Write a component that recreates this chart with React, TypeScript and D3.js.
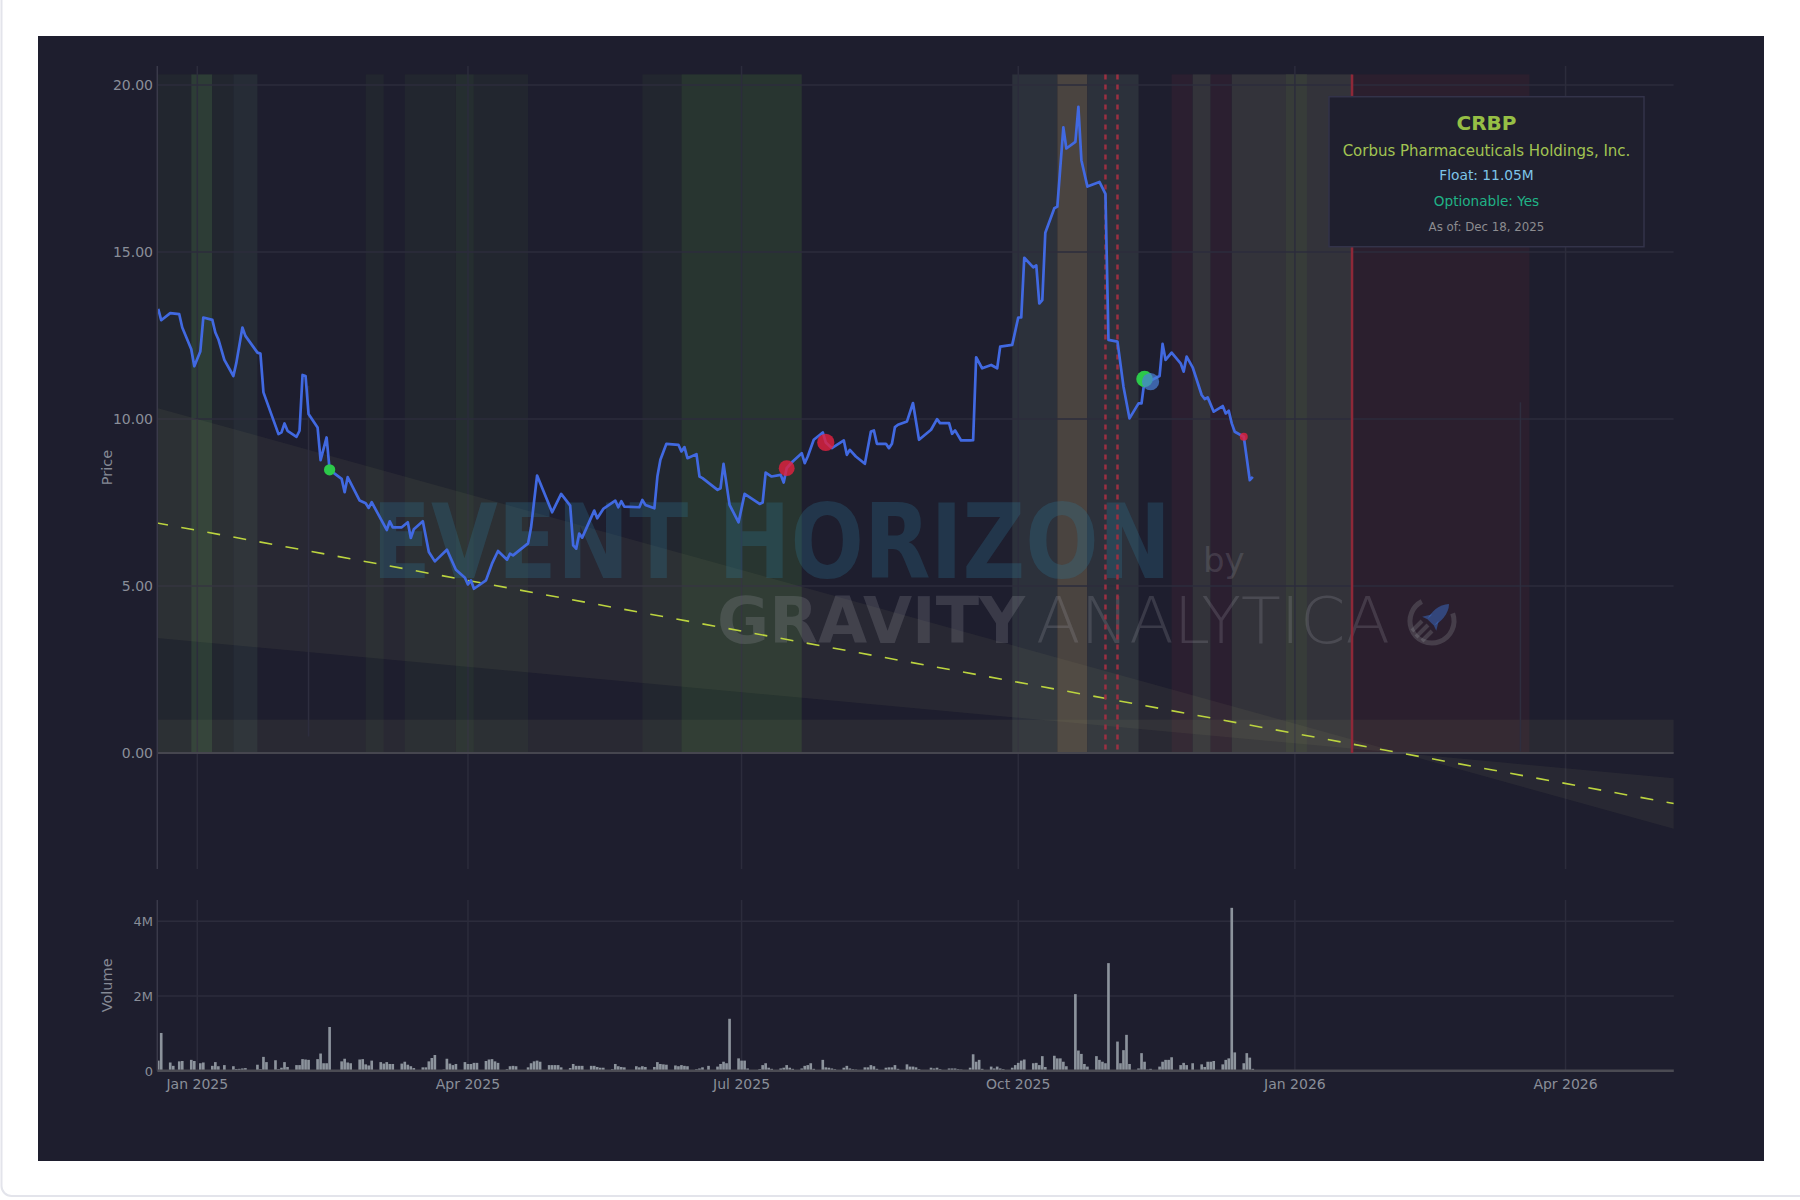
import React from "react";
import * as d3 from "d3";

// ---------------- DATA ----------------
const priceDates = [
  "2024-12-19","2024-12-20","2024-12-23","2024-12-26","2024-12-27","2024-12-30","2024-12-31",
  "2025-01-02","2025-01-03","2025-01-06","2025-01-07","2025-01-08","2025-01-10","2025-01-13","2025-01-14","2025-01-16","2025-01-17","2025-01-21","2025-01-22","2025-01-23","2025-01-28","2025-01-29","2025-01-30","2025-01-31",
  "2025-02-03","2025-02-04","2025-02-05","2025-02-06","2025-02-07","2025-02-10","2025-02-11","2025-02-13","2025-02-14","2025-02-18","2025-02-19","2025-02-20","2025-02-24","2025-02-26","2025-02-27","2025-02-28",
  "2025-03-05","2025-03-06","2025-03-07","2025-03-10","2025-03-12","2025-03-13","2025-03-14","2025-03-17","2025-03-19","2025-03-21","2025-03-25","2025-03-28","2025-03-31",
  "2025-04-01","2025-04-02","2025-04-03","2025-04-07","2025-04-09","2025-04-11","2025-04-14","2025-04-15","2025-04-16","2025-04-21","2025-04-22","2025-04-24","2025-04-29",
  "2025-05-02","2025-05-05","2025-05-06","2025-05-07","2025-05-08","2025-05-09","2025-05-13","2025-05-14","2025-05-16","2025-05-20","2025-05-21","2025-05-22","2025-05-23","2025-05-28","2025-05-29","2025-05-30",
  "2025-06-02","2025-06-03","2025-06-04","2025-06-06","2025-06-10","2025-06-11","2025-06-12","2025-06-13","2025-06-16","2025-06-17","2025-06-18","2025-06-23","2025-06-24","2025-06-25","2025-06-27","2025-06-30",
  "2025-07-02","2025-07-07","2025-07-08","2025-07-09","2025-07-11","2025-07-14","2025-07-15","2025-07-16","2025-07-18","2025-07-21","2025-07-22","2025-07-23","2025-07-25","2025-07-28","2025-07-29","2025-07-31",
  "2025-08-04","2025-08-05","2025-08-06","2025-08-08","2025-08-11","2025-08-13","2025-08-14","2025-08-15","2025-08-18","2025-08-19","2025-08-20","2025-08-21","2025-08-22","2025-08-25","2025-08-27","2025-08-29",
  "2025-09-02","2025-09-04","2025-09-05","2025-09-08","2025-09-09","2025-09-10","2025-09-12","2025-09-15","2025-09-16","2025-09-17","2025-09-19","2025-09-22","2025-09-24","2025-09-25","2025-09-29",
  "2025-10-01","2025-10-02","2025-10-03","2025-10-06","2025-10-07","2025-10-08","2025-10-09","2025-10-10","2025-10-13","2025-10-14","2025-10-16","2025-10-17","2025-10-20","2025-10-21","2025-10-22","2025-10-24","2025-10-28","2025-10-30","2025-10-31",
  "2025-11-03","2025-11-05","2025-11-07","2025-11-10","2025-11-11","2025-11-12","2025-11-14","2025-11-17","2025-11-18","2025-11-19","2025-11-21","2025-11-24","2025-11-25","2025-11-26","2025-11-28",
  "2025-12-01","2025-12-02","2025-12-03","2025-12-05","2025-12-08","2025-12-09","2025-12-10","2025-12-11","2025-12-12","2025-12-15","2025-12-17","2025-12-18",
];
const priceValues = [
  13.3,12.96,13.17,13.14,12.74,12.09,11.58,
  12.02,13.04,12.97,12.59,12.39,11.77,11.29,11.69,12.74,12.49,11.99,11.96,10.8,9.55,9.6,9.87,9.65,
  9.47,9.65,11.32,11.29,10.15,9.75,8.77,9.45,8.48,8.21,7.81,8.26,7.56,7.48,7.34,7.51,
  6.68,6.94,6.76,6.76,6.91,6.44,6.7,6.94,6.02,5.74,6.09,5.49,5.25,
  5.05,5.17,4.92,5.17,5.67,6.05,5.79,5.97,5.92,6.28,6.76,8.31,7.21,
  7.76,7.41,6.22,6.12,6.57,6.45,7.26,7.03,7.31,7.56,7.36,7.54,7.38,7.36,7.58,7.43,
  7.33,8.28,8.78,9.26,9.23,9.03,9.16,8.83,8.95,8.28,8.23,7.88,7.93,8.66,7.43,6.91,
  7.76,7.46,7.5,8.4,8.28,8.33,8.1,8.53,8.73,8.98,8.68,8.88,9.38,9.6,9.3,9.13,
  9.36,8.93,9.08,8.88,8.66,9.63,9.66,9.26,9.26,9.13,9.26,9.76,9.83,9.93,10.48,9.38,
  9.68,10.0,9.88,9.88,9.56,9.66,9.36,9.36,9.37,11.85,11.52,11.62,11.52,12.17,12.22,
  13.04,13.04,14.83,14.54,14.6,13.46,13.56,15.58,16.31,16.36,18.73,18.1,18.3,19.35,17.75,16.96,17.1,16.74,12.37,
  12.32,10.97,10.02,10.47,10.47,11.17,11.15,11.29,12.25,11.77,11.99,11.67,11.42,11.87,11.55,
  10.72,10.6,10.65,10.22,10.39,10.17,10.25,9.87,9.62,9.47,8.17,8.27,
];

// signal markers
const markerDates = ["2025-02-14","2025-07-16","2025-07-29","2025-11-12","2025-11-14","2025-12-15"];
const markerValues = [8.48, 8.53, 9.3, 11.2, 11.12, 9.47];
const markerKinds = ["buy","sell","sell","buy","hold","sell"];
const markerScores = [0.55, 0.9, 1.0, 0.95, 1.0, 0.3];

// trading-day volume (millions), one value per session from 2024-12-18 to 2025-12-18
const volDec24 = [0.3,0.27,1.01,0.22,0.13,0.25,0.26,0.29,0.26];
const volJan = [0.2,0.22,0.13,0.23,0.12,0.15,0.12,0.045,0.05,0.06,0.07,0.16,0.04,0.37,0.23,0.28,0.04,0.08,0.23,0.1];
const volFeb = [0.15,0.15,0.31,0.3,0.29,0.31,0.46,0.2,0.2,1.17,0.25,0.32,0.22,0.2,0.3,0.31,0.17,0.14,0.27];
const volMar = [0.23,0.19,0.23,0.18,0.18,0.19,0.24,0.16,0.12,0.07,0.09,0.09,0.25,0.34,0.42,0.03,0.32,0.19,0.15,0.18,0.23];
const volApr = [0.18,0.18,0.21,0.21,0.26,0.3,0.31,0.25,0.21,0.04,0.12,0.13,0.12,0.09,0.2,0.25,0.27,0.24,0.15,0.15,0.15];
const volMay = [0.15,0.09,0.07,0.18,0.13,0.13,0.13,0.13,0.13,0.1,0.08,0.08,0.04,0.18,0.12,0.1,0.09,0.12,0.09,0.12,0.1];
const volJun = [0.1,0.23,0.18,0.17,0.16,0.14,0.12,0.15,0.13,0.12,0.04,0.06,0.09,0.13,0.11,0.18,0.24,0.2,1.39,0.33];
const volJul = [0.27,0.27,0.06,0.04,0.15,0.2,0.08,0.05,0.06,0.08,0.15,0.08,0.05,0.06,0.13,0.15,0.2,0.05,0.29,0.09,0.08,0.06];
const volAug = [0.04,0.08,0.13,0.06,0.04,0.03,0.09,0.09,0.15,0.12,0.05,0.08,0.09,0.09,0.15,0.05,0.17,0.11,0.11,0.09,0.04];
const volSep = [0.08,0.06,0.08,0.04,0.06,0.06,0.06,0.04,0.03,0.08,0.44,0.24,0.29,0.05,0.11,0.06,0.11,0.06,0.04,0.08,0.15];
const volOct = [0.21,0.27,0.3,0.2,0.21,0.15,0.39,0.1,0.4,0.33,0.33,0.24,0.12,2.05,0.54,0.45,0.18,0.11,0.39,0.29,0.24,0.2,2.88];
const volNov = [0.78,0.2,0.55,0.96,0.18,0.06,0.47,0.24,0.03,0.05,0.11,0.24,0.29,0.29,0.36,0.15,0.21,0.15,0.2];
const volDec = [0.17,0.1,0.24,0.24,0.26,0.17,0.29,0.33,4.36,0.49,0.2,0.47,0.35,0.05];
const marketHolidays = ["2024-12-25","2025-01-01","2025-01-09","2025-01-20","2025-02-17","2025-04-18","2025-05-26","2025-06-19","2025-07-04","2025-09-01","2025-11-27"];
const sessionStart = "2024-12-18";
const sessionEnd = "2025-12-18";

// regime shading
const regionStarts = ["2024-12-18","2024-12-30","2025-01-06","2025-01-13","2025-02-26","2025-03-11","2025-03-28","2025-04-03","2025-05-29","2025-06-11","2025-09-29","2025-10-14","2025-10-24","2025-11-21","2025-11-28","2025-12-04","2025-12-11","2025-12-29","2026-01-20"];
const regionEnds   = ["2024-12-30","2025-01-06","2025-01-13","2025-01-21","2025-03-04","2025-03-28","2025-04-03","2025-04-21","2025-06-11","2025-07-21","2025-10-14","2025-10-24","2025-11-10","2025-11-28","2025-12-04","2025-12-11","2026-01-20","2026-01-05","2026-03-20"];
const regionKinds  = ["neutral","bull","neutral","neutralB","neutral","neutral","mixed","neutral","neutral","bullSoft","neutralL","heat","neutralL","bear","flat","bear","flat","flatG","earn"];

const eventDates = ["2025-10-30","2025-11-03"]; // dotted
const catalystDate = "2026-01-20"; // solid red
const faintLineDates = ["2025-02-07","2026-03-17"];
const faintLineLow = [0.5, 0.05];
const faintLineHigh = [11.0, 10.5];

// trend channel
const trendDates = ["2024-12-18","2026-05-07"];
const trendValues = [6.9, -1.51];
const bandLowFactor = 0.5;
const bandHighFactor = 1.5;
const supportLow = 0;
const supportHigh = 1;

const priceTicks = [0, 5, 10, 15, 20];
const volumeTicks = [0, 2e6, 4e6];

const tickerInfo = {
  symbol: "CRBP",
  name: "Corbus Pharmaceuticals Holdings, Inc.",
  float: "Float: 11.05M",
  optionable: "Optionable: Yes",
  asOf: "As of: Dec 18, 2025",
};

// ---------------- STYLE ----------------
const FONT = "'DejaVu Sans', Verdana, sans-serif";
const BG = "#1e1e2e";
const GRID = "#2c2c3c";
const TICK = "#8a8e99";
const regionColor: Record<string, string> = {
  neutral: "#22262f",
  neutralB: "#262c36",
  bull: "#2d3d36",
  bullSoft: "#283530",
  mixed: "#252e30",
  neutralL: "#2c313b",
  heat: "#4a4440",
  bear: "#2b1f30",
  flat: "#33333a",
  flatG: "#373c39",
  earn: "#2b1f2e",
};
const markerStyle: Record<string, { fill: string; opacity: number }> = {
  buy: { fill: "#2cc94a", opacity: 1 },
  sell: { fill: "#e0213f", opacity: 0.82 },
  hold: { fill: "#4a7fd8", opacity: 0.72 },
};

const parse = d3.utcParse("%Y-%m-%d");

function tradingDays(): Date[] {
  const hol = new Set(marketHolidays);
  const out: Date[] = [];
  const end = parse(sessionEnd)!;
  for (let d = parse(sessionStart)!; d <= end; d = d3.utcDay.offset(d, 1)) {
    const wd = d.getUTCDay();
    if (wd === 0 || wd === 6) continue;
    if (hol.has(d3.utcFormat("%Y-%m-%d")(d))) continue;
    out.push(d);
  }
  return out;
}

export default function App() {
  const L = 157.3, R = 1673.8;
  const PT = 66, PB = 869;
  const VT = 900, VB = 1070.7;

  const x = d3.scaleUtc()
    .domain([new Date(Date.UTC(2024, 11, 18, 16, 48)), new Date(Date.UTC(2026, 4, 7))])
    .range([L, R]);
  const y = d3.scaleLinear().domain([-3.47, 20.57]).range([PB, PT]);
  const yv = d3.scaleLinear().domain([0, 4.57e6]).range([VB, VT]);

  const prices = priceDates.map((d, i) => ({ d: parse(d)!, v: priceValues[i] }));
  const regionTop = (d3.max(priceValues) as number) * 1.05;

  const days = tradingDays();
  const vols = [...volDec24, ...volJan, ...volFeb, ...volMar, ...volApr, ...volMay, ...volJun, ...volJul, ...volAug, ...volSep, ...volOct, ...volNov, ...volDec];
  const volData = days.map((d, i) => ({ d, v: (vols[i] ?? 0) * 1e6 }));
  const barW = (x(parse("2025-01-02")!) - x(parse("2025-01-01")!)) * 0.88;

  const line = d3.line<{ d: Date; v: number }>().x(p => x(p.d)).y(p => y(p.v));
  const trend = trendDates.map((d, i) => ({ d: parse(d)!, v: trendValues[i] }));
  const band = d3.area<{ d: Date; v: number }>()
    .x(p => x(p.d)).y0(p => y(p.v * bandLowFactor)).y1(p => y(p.v * bandHighFactor));

  const xTicks = x.ticks(d3.utcMonth.every(3)!);
  const fmtX = d3.utcFormat("%b %Y");
  const fmtP = d3.format(".2f");
  const fmtV = d3.format("~s");
  const rScale = d3.scaleLinear().domain([0, 1]).range([2, 8.6]);

  return (
    <svg width={1800} height={1200} style={{ position: "fixed", left: 0, top: 0 }} fontFamily={FONT}>
      <defs>
        <clipPath id="pclip"><rect x={L} y={PT} width={R - L} height={PB - PT} /></clipPath>
        <clipPath id="vclip"><rect x={L} y={VT} width={R - L} height={VB - VT} /></clipPath>
      </defs>
      <rect x={0} y={0} width={1800} height={1200} fill="#ffffff" />
      <rect x={1.5} y={-20} width={1860} height={1216} rx={10} fill="#ffffff" stroke="#e3e4eb" strokeWidth={2} />
      <rect x={38} y={36} width={1726} height={1125} fill={BG} />

      {/* ---------- price panel ---------- */}
      <g clipPath="url(#pclip)">
        {regionStarts.map((s, i) => (
          <rect key={"r" + i} x={x(parse(s)!)} y={y(regionTop)} width={x(parse(regionEnds[i])!) - x(parse(s)!)}
            height={y(0) - y(regionTop)} fill={regionColor[regionKinds[i]]} />
        ))}
        {priceTicks.map(t => (
          <line key={"gy" + t} x1={L} x2={R} y1={y(t)} y2={y(t)} stroke={GRID} strokeWidth={1.5} />
        ))}
        {xTicks.map(t => (
          <line key={"gx" + +t} x1={x(t)} x2={x(t)} y1={PT} y2={PB} stroke={GRID} strokeWidth={1.5} />
        ))}
        <rect x={L} y={y(supportHigh)} width={R - L} height={y(supportLow) - y(supportHigh)} fill="rgba(150,150,110,0.09)" />
        <path d={band(trend) || ""} fill="rgba(165,170,120,0.08)" />
        {faintLineDates.map((d, i) => (
          <line key={"fl" + i} x1={x(parse(d)!)} x2={x(parse(d)!)} y1={y(faintLineHigh[i])} y2={y(faintLineLow[i])} stroke="#2e2e3f" strokeWidth={1.5} />
        ))}
        <line x1={L} x2={R} y1={y(0)} y2={y(0)} stroke="#46464f" strokeWidth={2} />

        {/* watermark */}
        <g>
          <text x={372} y={578} fontSize={103} fontWeight="bold" textLength={799} lengthAdjust="spacingAndGlyphs" fill="rgba(45,120,150,0.28)">EVENT HORIZON</text>
          <text x={1203} y={572} fontSize={34} fill="rgba(170,172,178,0.2)">by</text>
          <text x={717} y={643} fontSize={64} fontWeight="bold" textLength={308} lengthAdjust="spacingAndGlyphs" fill="rgba(170,172,178,0.2)">GRAVITY</text>
          <text x={1036} y={643} fontSize={64} fontWeight={200} textLength={354} lengthAdjust="spacingAndGlyphs" fill="rgba(170,172,178,0.2)">ANALYTICA</text>
          <g transform="translate(1432,621)">
            <circle r={22} fill="none" stroke="rgba(170,172,178,0.22)" strokeWidth={5} strokeDasharray="100 38" transform="rotate(-20)" />
            <line x1={-16} y1={16} x2={-4} y2={4} stroke="rgba(170,172,178,0.22)" strokeWidth={4} />
            <line x1={-10} y1={20} x2={0} y2={10} stroke="rgba(170,172,178,0.22)" strokeWidth={4} />
            <line x1={-20} y1={10} x2={-10} y2={0} stroke="rgba(170,172,178,0.22)" strokeWidth={4} />
            <g transform="translate(5,-5) rotate(45)" fill="rgba(60,110,200,0.5)">
              <path d="M0,-17 C7,-10 7,2 4.5,9 L-4.5,9 C-7,2 -7,-10 0,-17 Z" />
              <path d="M-4.5,2 L-10,11 L-4.5,9 Z" />
              <path d="M4.5,2 L10,11 L4.5,9 Z" />
            </g>
          </g>
        </g>

        <line x1={x(parse(trendDates[0])!)} x2={x(parse(trendDates[1])!)} y1={y(trendValues[0])} y2={y(trendValues[1])}
          stroke="#bcd43f" strokeWidth={1.6} strokeDasharray="13 13.5" />
        {eventDates.map((d, i) => (
          <line key={"ev" + i} x1={x(parse(d)!)} x2={x(parse(d)!)} y1={y(regionTop)} y2={y(0)} stroke="#9a3042" strokeWidth={2.5} strokeDasharray="5 5" />
        ))}
        <line x1={x(parse(catalystDate)!)} x2={x(parse(catalystDate)!)} y1={y(regionTop)} y2={y(0)} stroke="#8e2838" strokeWidth={2.5} />

        <path d={line(prices) || ""} fill="none" stroke="#4169e1" strokeWidth={2.7} strokeLinejoin="round" />
        {markerDates.map((d, i) => (
          <circle key={"m" + i} cx={x(parse(d)!)} cy={y(markerValues[i])} r={rScale(markerScores[i])}
            fill={markerStyle[markerKinds[i]].fill} opacity={markerStyle[markerKinds[i]].opacity} />
        ))}
      </g>
      <line x1={L} x2={L} y1={PT} y2={PB} stroke="#3a3a4a" strokeWidth={1.5} />
      {priceTicks.map(t => (
        <text key={"ty" + t} x={153} y={y(t) + 5} textAnchor="end" fontSize={14} fill={TICK}>{fmtP(t)}</text>
      ))}
      <text transform={`translate(107,${(PT + PB) / 2}) rotate(-90)`} textAnchor="middle" dominantBaseline="central" fontSize={14.5} fill="#858995">Price</text>

      {/* tooltip / info box */}
      <g>
        <rect x={1329} y={96.7} width={315} height={150} fill="#1f1f2e" stroke="#33334a" strokeWidth={1.5} />
        <text x={1486.5} y={130} textAnchor="middle" fontSize={20} fontWeight="bold" fill="#96bf45">{tickerInfo.symbol}</text>
        <text x={1486.5} y={155.7} textAnchor="middle" fontSize={15} fill="#a2c452">{tickerInfo.name}</text>
        <text x={1486.5} y={180} textAnchor="middle" fontSize={13.8} fill="#7ec4e8">{tickerInfo.float}</text>
        <text x={1486.5} y={206} textAnchor="middle" fontSize={13.6} fill="#1fb386">{tickerInfo.optionable}</text>
        <text x={1486.5} y={230.7} textAnchor="middle" fontSize={11.8} fill="#8c8c90">{tickerInfo.asOf}</text>
      </g>

      {/* ---------- volume panel ---------- */}
      <g>
        {volumeTicks.filter(t => t > 0).map(t => (
          <line key={"vg" + t} x1={L} x2={R} y1={yv(t)} y2={yv(t)} stroke={GRID} strokeWidth={1.5} />
        ))}
        {xTicks.map(t => (
          <line key={"vx" + +t} x1={x(t)} x2={x(t)} y1={VT} y2={VB} stroke={GRID} strokeWidth={1.5} />
        ))}
        <g clipPath="url(#vclip)">
          {volData.map((p, i) => (
            <rect key={"v" + i} x={x(p.d) - barW / 2} y={yv(p.v)} width={barW} height={yv(0) - yv(p.v)} fill="#8c939c" />
          ))}
        </g>
        <line x1={L} x2={R} y1={VB} y2={VB} stroke="#4b4b53" strokeWidth={2.5} />
        <line x1={L} x2={L} y1={VT} y2={VB} stroke="#3a3a4a" strokeWidth={1.5} />
        {volumeTicks.map(t => (
          <text key={"vt" + t} x={153} y={yv(t) + 5} textAnchor="end" fontSize={13} fill={TICK}>{fmtV(t)}</text>
        ))}
        <text transform={`translate(107,${(VT + VB) / 2}) rotate(-90)`} textAnchor="middle" dominantBaseline="central" fontSize={14.5} fill="#858995">Volume</text>
        {xTicks.map(t => (
          <text key={"xl" + +t} x={x(t)} y={1089} textAnchor="middle" fontSize={14} fill={TICK}>{fmtX(t)}</text>
        ))}
      </g>
    </svg>
  );
}
